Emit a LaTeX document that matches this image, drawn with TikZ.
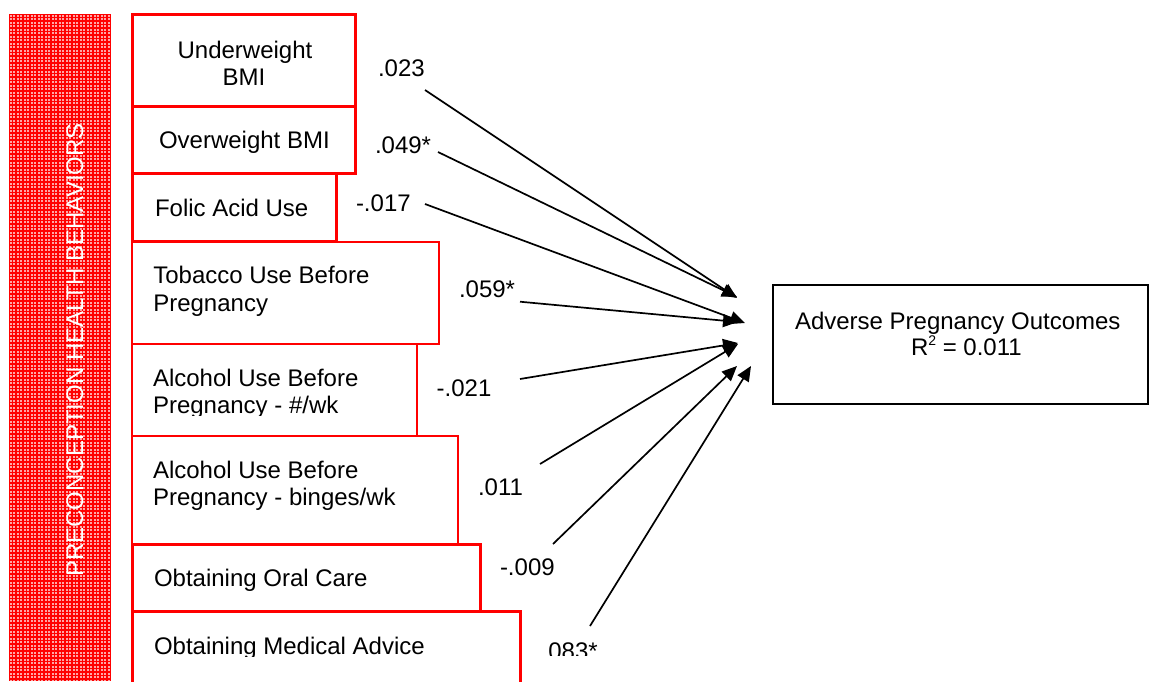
\documentclass[tikz,border=0pt]{standalone}
\usepackage{fontspec}
\setmainfont{Liberation Sans}
\usetikzlibrary{arrows.meta}
\definecolor{barpink}{RGB}{255,165,165}
\begin{document}
\begin{tikzpicture}[x=1pt,y=-1pt,
  every node/.style={inner sep=0pt, outer sep=0pt, font=\fontsize{24}{28}\selectfont},
  txt/.style={anchor=base west},
  ctxt/.style={anchor=base},
  redbox/.style={draw=red, line width=3pt, anchor=north west, rectangle},
  thinbox/.style={redbox, line width=1.6pt},
  outbox/.style={draw=black, line width=2.8pt, anchor=north west, rectangle},
  conn/.style={draw=black, line width=1.7pt, -{Triangle[length=15pt,width=13pt]}},
  weave/.style={draw=red, line width=1.6pt},
]
\useasboundingbox (0,0) rectangle (1150,681);
\clip (0,0) rectangle (1150,681);

% side bar with its woven texture
\fill[barpink] (9,14) rectangle (111,681);
\begin{scope}
  \clip (9,14) rectangle (111,681);
  \foreach \gx in {9,12.5,...,112} { \draw[weave] (\gx,14) -- (\gx,681); }
  \foreach \gy in {14,17.5,...,682} { \draw[weave] (9,\gy) -- (111,\gy); }
\end{scope}
\node[ctxt, rotate=90, text=white] (side) at (83,350) {PRECONCEPTION HEALTH BEHAVIORS};

% predictor boxes
\node[thinbox, minimum width=307pt, minimum height=102pt] (btb) at (132,242) {};
\node[thinbox, minimum width=285pt, minimum height=92pt] (ba1) at (132,344) {};
\node[thinbox, minimum width=326pt, minimum height=108pt] (ba2) at (132,436) {};
\node[redbox, minimum width=223.5pt, minimum height=92pt] (buw) at (132,14) {};
\node[redbox, minimum width=223.5pt, minimum height=67pt] (bow) at (132,106) {};
\node[redbox, minimum width=204pt, minimum height=68pt] (bfa) at (132,173) {};
\node[redbox, minimum width=348pt, minimum height=67.5pt] (boc) at (132,544) {};
\node[redbox, minimum width=388pt, minimum height=100pt] (bma) at (132,611) {};

% predictor texts
\node[ctxt] (tuw1) at (245,58.3) {Underweight};
\node[ctxt] (tuw2) at (244,85) {BMI};
\node[txt] (tow) at (159,148) {Overweight BMI};
\node[txt] (tfa) at (155,216.7) {Folic Acid Use};
\node[txt] (ttb1) at (153.3,283.3) {Tobacco Use Before};
\node[txt] (ttb2) at (153.3,311.7) {Pregnancy};
\node[txt] (ta11) at (153,386.7) {Alcohol Use Before};
\begin{scope}
  \clip (140,395) rectangle (420,415);
  \node[txt] (ta12) at (153,413.3) {Pregnancy - \#/wk};
\end{scope}
\node[txt] (ta21) at (153,478.3) {Alcohol Use Before};
\node[txt] (ta22) at (153,505) {Pregnancy - binges/wk};
\begin{scope}
  \clip (140,560) rectangle (480,590.7);
  \node[txt] (toc) at (154,586.7) {Obtaining Oral Care};
\end{scope}
\begin{scope}
  \clip (140,625) rectangle (520,656.7);
  \node[txt] (tma) at (154,654) {Obtaining Medical Advice};
\end{scope}

% outcome
\node[outbox, minimum width=375pt, minimum height=119pt] (out) at (773,285) {};
\node[txt] (out1) at (795,329) {Adverse Pregnancy Outcomes};
\node[txt] (out2) at (911,355) {R\raisebox{10pt}{\fontsize{14}{14}\selectfont 2} = 0.011};

% path coefficients
\node[txt] (l1) at (378,76.7) {.023};
\node[txt] (l2) at (375,153) {.049*};
\node[txt] (l3) at (356,211.7) {-.017};
\node[txt] (l4) at (459,297.3) {.059*};
\node[txt] (l5) at (436.7,396.7) {-.021};
\node[txt] (l6) at (478,495.7) {.011};
\node[txt] (l7) at (500,575) {-.009};
\begin{scope}
  \clip (530,630) rectangle (610,655);
  \node[txt] (l8) at (541.7,659) {.083*};
\end{scope}

% arrow ends
\coordinate (s1) at (425,90);   \coordinate (t1) at (737,298);
\coordinate (s2) at (438,152);  \coordinate (t2) at (737,297);
\coordinate (s3) at (425,204);  \coordinate (t3) at (745,323);
\coordinate (s4) at (520,301.7);\coordinate (t4) at (738,322);
\coordinate (s5) at (520,379);  \coordinate (t5) at (738,343);
\coordinate (s6) at (540,464);  \coordinate (t6) at (738,344);
\coordinate (s7) at (553,544);  \coordinate (t7) at (737,366);
\coordinate (s8) at (590,626);  \coordinate (t8) at (751,366);

\foreach \i in {1,...,8} {
  \draw[conn] (s\i) -- (t\i);
}
\end{tikzpicture}
\end{document}
